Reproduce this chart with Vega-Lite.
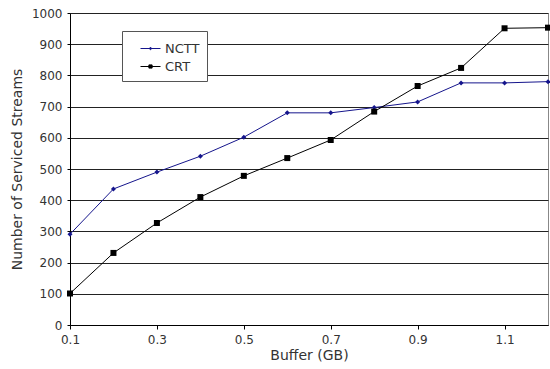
{
  "$schema": "https://vega.github.io/schema/vega-lite/v6.json",
  "autosize": "none",
  "width": 478,
  "height": 312,
  "padding": {"left": 70, "top": 13, "right": 2, "bottom": 44},
  "background": "white",
  "config": {
    "view": {"stroke": "#888888", "strokeWidth": 1},
    "font": "DejaVu Sans",
    "axis": {"labelFont": "DejaVu Sans", "titleFont": "DejaVu Sans", "labelColor": "#333333", "titleColor": "#333333", "titleFontWeight": "normal", "labelFontSize": 12, "titleFontSize": 14}
  },
  "data": {
    "values": [
      {"buffer": 0.1, "series": "NCTT", "streams": 291},
      {"buffer": 0.2, "series": "NCTT", "streams": 436},
      {"buffer": 0.3, "series": "NCTT", "streams": 490},
      {"buffer": 0.4, "series": "NCTT", "streams": 541},
      {"buffer": 0.5, "series": "NCTT", "streams": 602},
      {"buffer": 0.6, "series": "NCTT", "streams": 680},
      {"buffer": 0.7, "series": "NCTT", "streams": 680},
      {"buffer": 0.8, "series": "NCTT", "streams": 697},
      {"buffer": 0.9, "series": "NCTT", "streams": 715},
      {"buffer": 1.0, "series": "NCTT", "streams": 776},
      {"buffer": 1.1, "series": "NCTT", "streams": 776},
      {"buffer": 1.2, "series": "NCTT", "streams": 780},
      {"buffer": 0.1, "series": "CRT", "streams": 101},
      {"buffer": 0.2, "series": "CRT", "streams": 231},
      {"buffer": 0.3, "series": "CRT", "streams": 327},
      {"buffer": 0.4, "series": "CRT", "streams": 410},
      {"buffer": 0.5, "series": "CRT", "streams": 478},
      {"buffer": 0.6, "series": "CRT", "streams": 535},
      {"buffer": 0.7, "series": "CRT", "streams": 593},
      {"buffer": 0.8, "series": "CRT", "streams": 684},
      {"buffer": 0.9, "series": "CRT", "streams": 766},
      {"buffer": 1.0, "series": "CRT", "streams": 824},
      {"buffer": 1.1, "series": "CRT", "streams": 951},
      {"buffer": 1.2, "series": "CRT", "streams": 953}
    ]
  },
  "encoding": {
    "x": {
      "field": "buffer", "type": "quantitative",
      "scale": {"domain": [0.1, 1.2], "nice": false, "zero": false},
      "axis": {"title": "Buffer (GB)", "values": [0.1, 0.3, 0.5, 0.7, 0.9, 1.1], "format": ".1f", "labelFlush": false, "grid": false, "domainColor": "#000000", "tickColor": "#000000", "tickSize": 4, "labelPadding": 5, "titlePadding": 3}
    },
    "y": {
      "field": "streams", "type": "quantitative",
      "scale": {"domain": [0, 1000], "nice": false},
      "axis": {"title": "Number of Serviced Streams", "values": [0, 100, 200, 300, 400, 500, 600, 700, 800, 900, 1000], "format": "d", "labelFlush": false, "grid": true, "gridColor": "#222222", "gridWidth": 1, "domainColor": "#000000", "tickColor": "#000000", "tickSize": 3, "labelPadding": 5, "titlePadding": 7}
    },
    "color": {
      "field": "series", "type": "nominal",
      "scale": {"domain": ["NCTT", "CRT"], "range": ["#15158c", "#000000"]},
      "legend": {
        "title": null, "orient": "none", "legendX": 52, "legendY": 18,
        "fillColor": "white", "strokeColor": "#555555", "padding": 7,
        "symbolSize": 400, "symbolOffset": 11, "labelOffset": 4, "rowPadding": 0,
        "labelFont": "DejaVu Sans", "labelFontSize": 13, "labelColor": "#333333",
        "symbolStrokeWidth": 1,
        "encode": {
          "symbols": {
            "update": {
              "shape": {"signal": "datum.value === 'NCTT' ? 'M-1,0H1M0,-0.13L0.13,0L0,0.13L-0.13,0Z' : 'M-1,0H1M-0.16,-0.16H0.16V0.16H-0.16Z'"},
              "fill": {"signal": "datum.value === 'NCTT' ? '#15158c' : '#000000'"},
              "stroke": {"signal": "datum.value === 'NCTT' ? '#15158c' : '#000000'"}
            }
          },
          "legend": {
            "update": {"width": {"value": 76}}
          }
        }
      }
    }
  },
  "layer": [
    {"mark": {"type": "line", "strokeWidth": 1}},
    {
      "transform": [{"filter": "datum.series === 'NCTT'"}],
      "mark": {"type": "point", "shape": "diamond", "filled": true, "opacity": 1, "size": 25}
    },
    {
      "transform": [{"filter": "datum.series === 'CRT'"}],
      "mark": {"type": "point", "shape": "square", "filled": true, "opacity": 1, "size": 36}
    }
  ]
}
